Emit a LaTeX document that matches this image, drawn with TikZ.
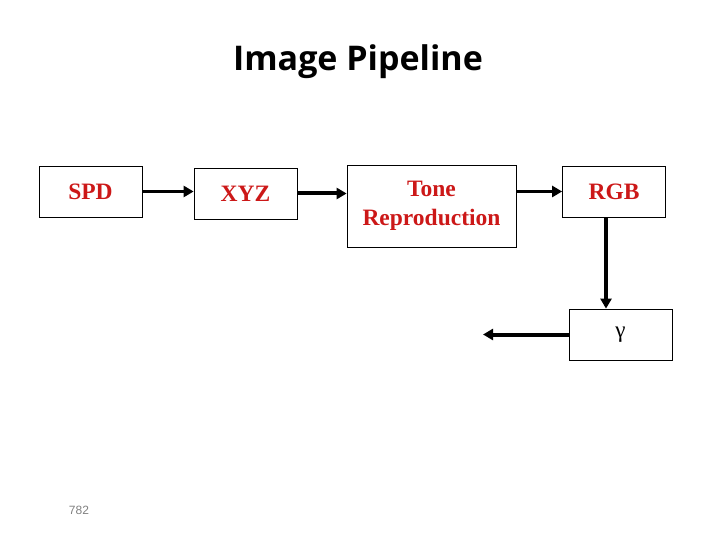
\documentclass[tikz,border=0pt]{standalone}
\usepackage{fontspec}
\setmainfont{Liberation Serif}
\newfontfamily\titlefont{Open Sans}
\setsansfont{Liberation Sans}
\usetikzlibrary{arrows.meta,positioning}
\definecolor{boxred}{RGB}{204,24,24}
\begin{document}
\begin{tikzpicture}[x=1pt, y=-1pt, >={Triangle[length=10pt,width=11pt]},
    stage/.style={draw, line width=0.8pt, minimum width=103pt, minimum height=51pt,
      inner sep=0pt, align=center, text=boxred,
      font=\fontsize{23.5}{29}\selectfont\bfseries},
    flow/.style={->, line width=4pt}]
    \useasboundingbox (0,0) rectangle (720,540);
    \node[font=\titlefont\bfseries\fontsize{34}{38}\selectfont] (title) at (358,62) {Image Pipeline};
    % the stages
    \node[stage] (spd) at (90.5,191.5) {SPD};
    \node[stage] (xyz) at (245.5,193.5) {XYZ};
    \node[stage, minimum width=169pt, minimum height=82pt] (tone) at (431.5,206) {Tone\\Reproduction};
    \node[stage] (rgb) at (614,191.5) {RGB};
    \node[stage, text=black, font=\fontsize{23}{26}\selectfont] (gamma) at (620.5,334.5) {γ};
    \coordinate (out) at (483,336);
    % connectors
    \draw[flow, line width=3.2pt] (spd.east) -- (spd.east -| xyz.west);
    \draw[flow] (xyz.east) -- (xyz.east -| tone.west);
    \draw[flow, line width=3.5pt] (rgb.west -| tone.east) -- (rgb.west);
    \draw[flow] ([xshift=-8pt]rgb.south) -- ([xshift=-8pt]rgb.south |- gamma.north);
    \draw[flow] (gamma.west) -- (gamma.west -| out);
    \node[font=\sffamily\fontsize{12}{14}\selectfont, text=gray] (page) at (79,510) {782};
\end{tikzpicture}
\end{document}
